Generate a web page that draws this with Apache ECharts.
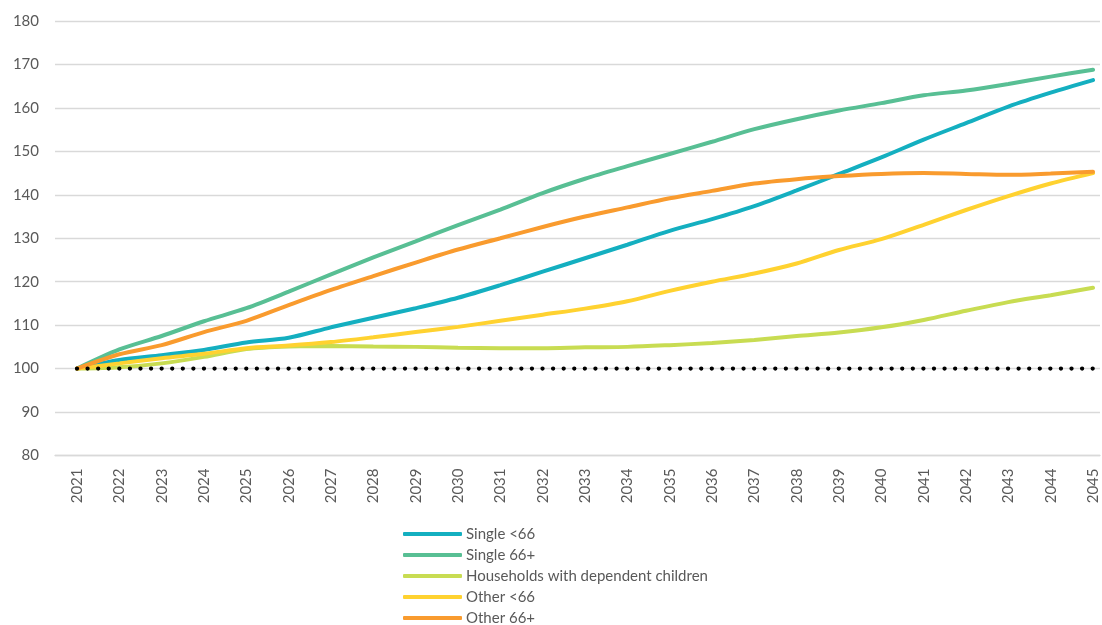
<!DOCTYPE html>
<html><head><meta charset="utf-8">
<script src="https://cdn.jsdelivr.net/npm/echarts@6/dist/echarts.min.js"></script>
<style>html,body{margin:0;padding:0;background:#fff}#c{width:1102px;height:625px}</style>
</head><body><div id="c"></div>
<script>
const years = ['2021','2022','2023','2024','2025','2026','2027','2028','2029','2030','2031','2032','2033','2034','2035','2036','2037','2038','2039','2040','2041','2042','2043','2044','2045'];
const singleUnder66 = [100,102.0,103.1,104.3,106.0,107.1,109.5,111.7,113.9,116.3,119.2,122.3,125.4,128.5,131.7,134.4,137.4,141.0,144.8,148.6,152.7,156.5,160.3,163.5,166.4];
const single66plus = [100,104.4,107.5,110.9,113.9,117.7,121.7,125.6,129.3,133.0,136.6,140.4,143.7,146.6,149.4,152.2,155.1,157.4,159.4,161.1,162.9,164.0,165.5,167.2,168.8];
const households = [100,100.3,101.2,102.7,104.5,105.1,105.2,105.1,105.0,104.8,104.7,104.7,104.9,105.0,105.4,105.9,106.6,107.5,108.3,109.5,111.2,113.3,115.3,116.9,118.6];
const otherUnder66 = [100,101.2,102.4,103.4,104.7,105.3,106.1,107.2,108.4,109.6,111.0,112.4,113.8,115.5,117.9,120.0,121.9,124.2,127.3,129.8,133.1,136.5,139.7,142.6,145.0];
const other66plus = [100,103.3,105.4,108.4,111.0,114.6,118.1,121.3,124.4,127.4,130.0,132.6,135.0,137.1,139.2,140.9,142.6,143.6,144.3,144.8,145.0,144.8,144.6,144.9,145.3];
const baseline = years.map(() => 100);
const yTicks = [80, 180, 10];

const names = ['Single <66','Single 66+','Households with dependent children','Other <66','Other 66+'];
const colors = ['#14AFC0','#58BF94','#C8DC52','#FFD230','#F99B2E'];
const values = [singleUnder66, single66plus, households, otherUnder66, other66plus];

const chart = echarts.init(document.getElementById('c'));
const font = 'Lato, "Open Sans", sans-serif';
const series = names.map((n, i) => ({
  name: n, type: 'line', data: values[i], smooth: 0.3, symbol: 'none',
  xAxisIndex: 1, yAxisIndex: 1,
  lineStyle: { color: colors[i], width: 4, cap: 'round' }, itemStyle: { color: colors[i] }
}));
series.push({
  name: 'base', type: 'line', data: baseline, symbol: 'none', z: 5,
  xAxisIndex: 1, yAxisIndex: 1,
  lineStyle: { color: '#000', width: 4.3, type: [0.01, 10.57], cap: 'round' }
});
chart.setOption({
  animation: false,
  grid: [
    { left: 55, top: 21, right: 2, height: 434.5, containLabel: false },
    { left: 77, top: 21, right: 9, height: 434.5, containLabel: false }
  ],
  xAxis: [
    { gridIndex: 0, type: 'category', data: years, show: true,
      axisLine: { show: true, lineStyle: { color: '#D9D9D9', width: 1.3 } },
      axisTick: { show: false }, axisLabel: { show: false } },
    { gridIndex: 1, type: 'category', data: years, boundaryGap: false,
      axisLine: { show: false }, axisTick: { show: false }, splitLine: { show: false },
      axisLabel: { rotate: 90, interval: 0, margin: 13, fontSize: 15, color: '#595959', fontFamily: font } }
  ],
  yAxis: [
    { gridIndex: 0, type: 'value', min: yTicks[0], max: yTicks[1], interval: yTicks[2],
      axisLine: { show: false }, axisTick: { show: false },
      splitLine: { lineStyle: { color: '#D9D9D9', width: 1.3 } },
      axisLabel: { fontSize: 15, color: '#595959', margin: 16, fontFamily: font } },
    { gridIndex: 1, type: 'value', min: yTicks[0], max: yTicks[1], interval: yTicks[2],
      show: false, splitLine: { show: false } }
  ],
  legend: {
    data: names, orient: 'vertical', left: 403, top: 526, padding: 0, height: 120,
    icon: 'roundRect', itemWidth: 59, itemHeight: 4, itemGap: 5,
    textStyle: { fontSize: 15, color: '#595959', fontFamily: font, lineHeight: 16, padding: [0,0,0,-1] }
  },
  series
});
</script></body></html>
